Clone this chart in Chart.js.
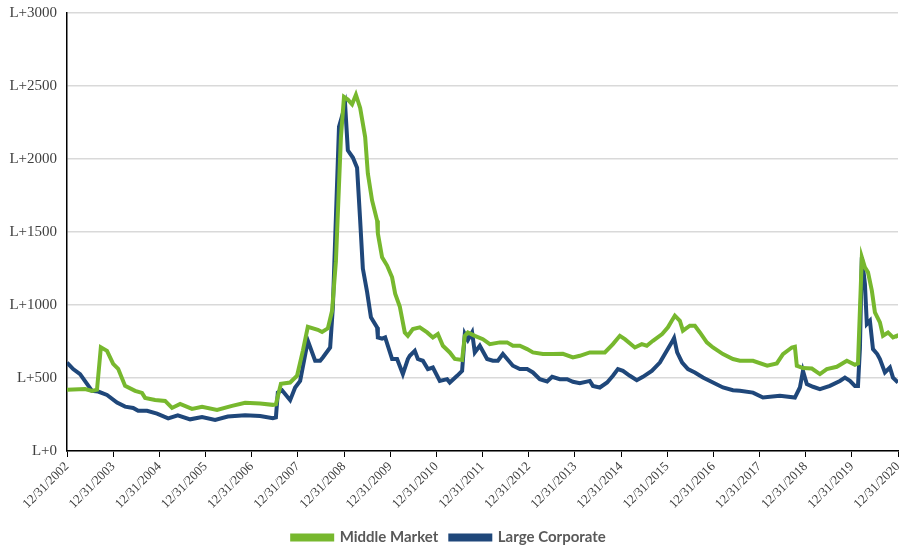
<!DOCTYPE html>
<html>
<head>
<meta charset="utf-8">
<script src="https://cdn.jsdelivr.net/npm/chart.js@4"></script>
<style>
  html, body { margin: 0; padding: 0; background: #fff; }
  #wrap { width: 919px; height: 560px; }
</style>
</head>
<body>
<div id="wrap"><canvas id="lineChart" width="919" height="560"></canvas></div>
<script>
// x values are months after 12/31/2002
const mmMonths = [0, 4.7, 6.5, 7.8, 8.8, 10.4, 12.0, 13.3, 15.1, 17.7, 19.5, 20.3, 22.9, 25.5, 27.3, 29.4, 32.5, 35.1, 39.0, 42.9, 46.3, 50.2, 53.5, 54.3, 55.6, 58.0, 59.8, 61.3, 62.6, 65.2, 66.3, 67.8, 68.9, 69.9, 71.2, 72.0, 73.0, 74.1, 75.1, 76.2, 77.5, 78.2, 79.3, 80.6, 80.8, 81.9, 83.2, 84.5, 85.3, 86.5, 87.8, 88.6, 89.9, 91.7, 93.6, 95.1, 96.4, 97.7, 99.5, 100.8, 102.7, 103.4, 104.2, 106.0, 108.1, 109.9, 112.5, 114.4, 115.9, 117.7, 119.6, 121.1, 123.7, 126.3, 128.9, 131.5, 133.3, 135.9, 138.5, 139.8, 141.9, 143.7, 145.0, 147.6, 149.4, 150.7, 152.3, 154.7, 156.2, 157.2, 158.0, 159.3, 160.1, 161.9, 163.2, 164.5, 166.3, 167.9, 170.5, 173.1, 174.9, 178.3, 182.0, 184.5, 186.1, 188.4, 189.2, 189.7, 191.3, 193.6, 195.7, 197.5, 200.1, 202.7, 204.8, 205.6, 206.6, 207.4, 208.2, 209.2, 210.0, 211.3, 212.1, 213.4, 214.7, 215.7, 216.0];
const mmSpread = [420, 425, 412, 420, 710, 686, 597, 563, 446, 412, 398, 364, 350, 343, 295, 323, 288, 302, 281, 309, 330, 325, 316, 320, 460, 469, 515, 686, 851, 830, 815, 840, 960, 1300, 2150, 2425, 2407, 2375, 2440, 2350, 2150, 1900, 1716, 1579, 1490, 1327, 1270, 1190, 1078, 990, 812, 789, 835, 847, 812, 778, 801, 721, 675, 631, 624, 789, 812, 789, 766, 732, 744, 744, 721, 721, 698, 675, 664, 664, 666, 641, 652, 675, 675, 675, 732, 789, 766, 709, 732, 721, 755, 801, 847, 892, 927, 892, 824, 858, 858, 812, 744, 709, 664, 630, 618, 618, 584, 600, 664, 709, 714, 584, 568, 565, 527, 561, 577, 618, 590, 600, 1327, 1258, 1224, 1098, 950, 881, 790, 812, 778, 789, 775];

const lcMonths = [0, 1.6, 3.4, 5.2, 6.5, 8.1, 10.4, 13.0, 15.1, 17.2, 18.5, 20.8, 23.4, 26.3, 28.8, 32.0, 35.1, 38.5, 41.8, 46.3, 50.2, 53.5, 54.3, 54.8, 55.9, 58.0, 59.3, 60.6, 62.6, 64.5, 65.8, 66.5, 68.4, 69.1, 70.7, 72.3, 73.0, 74.3, 75.4, 76.2, 76.9, 78.0, 79.0, 80.6, 80.8, 81.9, 82.7, 84.5, 85.8, 87.3, 88.6, 89.1, 90.4, 91.2, 92.5, 93.8, 95.1, 96.9, 98.8, 99.5, 101.4, 102.7, 103.4, 104.2, 105.3, 106.0, 107.3, 109.2, 110.7, 112.0, 113.3, 115.9, 117.7, 119.6, 121.1, 122.9, 124.8, 126.1, 128.1, 130.0, 131.5, 133.3, 135.9, 136.7, 138.5, 140.4, 141.9, 143.2, 144.5, 146.3, 148.1, 149.7, 152.0, 154.1, 155.9, 157.2, 157.8, 158.6, 159.9, 161.4, 163.2, 165.3, 167.9, 170.5, 173.1, 174.9, 178.3, 180.9, 185.3, 189.2, 190.5, 191.3, 192.3, 193.9, 195.7, 198.3, 200.9, 202.2, 203.5, 204.8, 205.6, 206.1, 206.6, 207.4, 207.9, 208.7, 209.5, 210.6, 211.3, 212.6, 213.9, 214.7, 216.0];
const lcSpread = [606, 561, 527, 460, 412, 407, 384, 332, 304, 295, 275, 275, 256, 224, 245, 217, 233, 213, 236, 245, 240, 224, 230, 400, 416, 348, 435, 480, 755, 618, 618, 641, 709, 984, 2220, 2368, 2059, 2010, 1940, 1579, 1250, 1090, 915, 847, 778, 770, 778, 630, 630, 527, 630, 652, 686, 630, 618, 561, 572, 480, 492, 469, 515, 549, 801, 760, 812, 675, 721, 630, 618, 618, 664, 584, 561, 561, 538, 492, 476, 508, 492, 492, 474, 465, 480, 446, 435, 469, 515, 561, 549, 515, 485, 508, 549, 606, 686, 744, 774, 675, 606, 561, 538, 503, 469, 435, 416, 412, 400, 366, 378, 366, 435, 549, 458, 440, 424, 446, 480, 503, 480, 446, 446, 700, 1327, 1144, 870, 892, 698, 664, 630, 538, 572, 503, 469];

const seriesNames = ["Middle Market", "Large Corporate"];
const seriesColors = ["#77B82E", "#1F477A"];

function toPoints(xs, ys) {
    return xs.map((x, i) => ({ x: x, y: ys[i] }));
}

const textGray = "#404040";

new Chart(document.getElementById("lineChart"), {
    type: "line",
    data: {
        datasets: [
            {
                label: seriesNames[0],
                data: toPoints(mmMonths, mmSpread),
                borderColor: seriesColors[0],
                backgroundColor: seriesColors[0],
                borderWidth: 4,
                pointRadius: 0,
                tension: 0
            },
            {
                label: seriesNames[1],
                data: toPoints(lcMonths, lcSpread),
                borderColor: seriesColors[1],
                backgroundColor: seriesColors[1],
                borderWidth: 4,
                pointRadius: 0,
                tension: 0
            }
        ]
    },
    options: {
        responsive: false,
        animation: false,
        layout: { padding: { top: 0, right: 21, bottom: 5, left: 0 } },
        plugins: {
            tooltip: { enabled: false },
            legend: {
                position: "bottom",
                labels: {
                    boxWidth: 40,
                    boxHeight: 4,
                    padding: 12,
                    color: "#595959",
                    font: { family: "Lato, 'Open Sans', sans-serif", size: 15, weight: "bold" }
                }
            }
        },
        scales: {
            x: {
                type: "linear",
                min: 0,
                max: 216,
                afterFit: function (s) { s.height = 67; },
                ticks: {
                    stepSize: 12,
                    minRotation: 45,
                    maxRotation: 45,
                    autoSkip: false,
                    padding: 2,
                    color: textGray,
                    font: { family: "'Liberation Serif', 'Times New Roman', serif", size: 13 },
                    callback: function (v) { return "12/31/" + (2002 + v / 12); }
                },
                grid: {
                    drawOnChartArea: false,
                    drawTicks: true,
                    tickLength: 6,
                    color: "#000"
                },
                border: { display: true, color: "#000", width: 1.5 }
            },
            y: {
                min: 0,
                max: 3000,
                afterFit: function (s) { s.width = 67; s.paddingTop = 13; },
                ticks: {
                    stepSize: 500,
                    padding: 10,
                    color: textGray,
                    font: { family: "'Liberation Serif', 'Times New Roman', serif", size: 15 },
                    callback: function (v) { return "L+" + v; }
                },
                grid: {
                    color: "#d9d9d9",
                    lineWidth: 1.5,
                    drawTicks: false
                },
                border: { display: true, color: "#000", width: 1.5 }
            }
        }
    }
});
</script>
</body>
</html>
